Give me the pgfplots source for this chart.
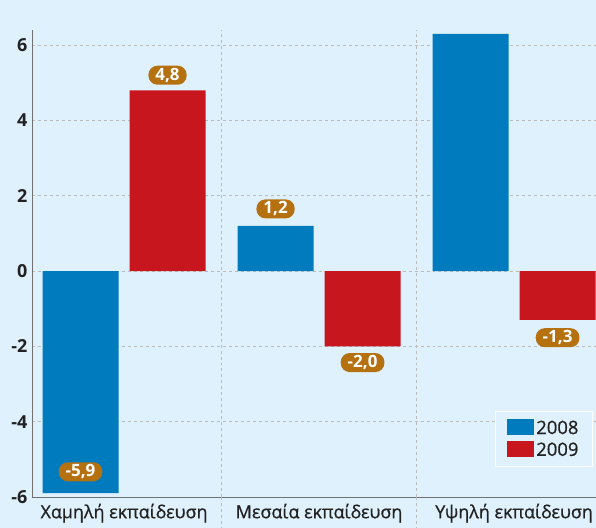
\documentclass[border=0pt]{standalone}
\usepackage{pgfplots}
\pgfplotsset{compat=1.18}
\usepackage{fontspec}
\setmainfont{Open Sans}
\newfontfamily\medfont{Open Sans}[RawFeature={embolden=0.8}]
\definecolor{bg}{HTML}{DFF1FC}
\definecolor{cblue}{HTML}{007BBE}
\definecolor{cred}{HTML}{C8161E}
\definecolor{cbrown}{HTML}{B5700F}
\definecolor{gridc}{HTML}{BBBBBB}
\definecolor{axc}{HTML}{707070}
\definecolor{txt}{HTML}{222222}
\begin{document}
\begin{tikzpicture}
\useasboundingbox (0,0) rectangle (596bp,528bp);
\fill[bg] (0,0) rectangle (596bp,528bp);
\begin{axis}[
  scale only axis, width=564bp, height=467bp,
  at={(32bp,31bp)}, anchor=south west,
  xmin=-0.472, xmax=2.42, ymin=-6, ymax=6.4,
  clip mode=individual,
  axis x line*=bottom, axis y line*=left,
  axis line style={draw=axc, line width=1pt},
  tick style={draw=none},
  ytick={-6,-4,-2,0,2,4,6},
  yticklabels={-6,-4,-2,0,2,4,6},
  yticklabel style={font=\bfseries\fontsize{18}{18}\selectfont, text=txt, xshift=-1bp},
  xtick={0,1,2},
  xticklabels={Χαμηλή εκπαίδευση, Μεσαία εκπαίδευση, Υψηλή εκπαίδευση},
  xticklabel style={font=\medfont\fontsize{18}{18}\selectfont, text=txt, yshift=1bp},
  extra x ticks={0.5,1.5}, extra x tick labels={},
  extra x tick style={grid=major, major grid style={draw=gridc, dashed, line width=0.8pt}},
  ymajorgrids, major grid style={draw=gridc, dashed, line width=0.8pt},
  ybar, bar width=0.39,
  legend style={at={(0.995,0.064)}, anchor=south east, fill=bg, draw=white, line width=1.5pt,
    font=\medfont\fontsize{18.5}{18.5}\selectfont, text=txt, row sep=3bp,
    inner xsep=12bp, inner ysep=7bp},
  legend cell align=left,
]
\addplot[fill=cblue, draw=none, bar shift=-0.223,
  legend image code/.code={\fill[cblue] (0bp,-7bp) rectangle (27bp,9bp);}]
  coordinates {(0,-5.9) (1,1.2) (2,6.3)};
\addplot[fill=cred, draw=none, bar shift=0.223,
  legend image code/.code={\fill[cred] (0bp,-7bp) rectangle (27bp,9bp);}]
  coordinates {(0,4.8) (1,-2.0) (2,-1.3)};
\legend{2008,2009}
\draw[gridc, dashed, line width=0.8pt] (axis cs:0.5,-6) -- ([yshift=-31bp]axis cs:0.5,-6);
\draw[gridc, dashed, line width=0.8pt] (axis cs:1.5,-6) -- ([yshift=-31bp]axis cs:1.5,-6);
\tikzset{vb/.style={fill=cbrown, text=white, rounded corners=9bp, font=\bfseries\fontsize{17}{17}\selectfont, inner xsep=7bp, inner ysep=1bp, minimum height=19bp}}
\node[vb] at (axis cs:0.223,5.2) {4,8};
\node[vb] at (axis cs:-0.223,-5.33) {-5,9};
\node[vb] at (axis cs:0.777,1.65) {1,2};
\node[vb] at (axis cs:1.223,-2.43) {-2,0};
\node[vb] at (axis cs:2.223,-1.77) {-1,3};
\end{axis}
\end{tikzpicture}
\end{document}
